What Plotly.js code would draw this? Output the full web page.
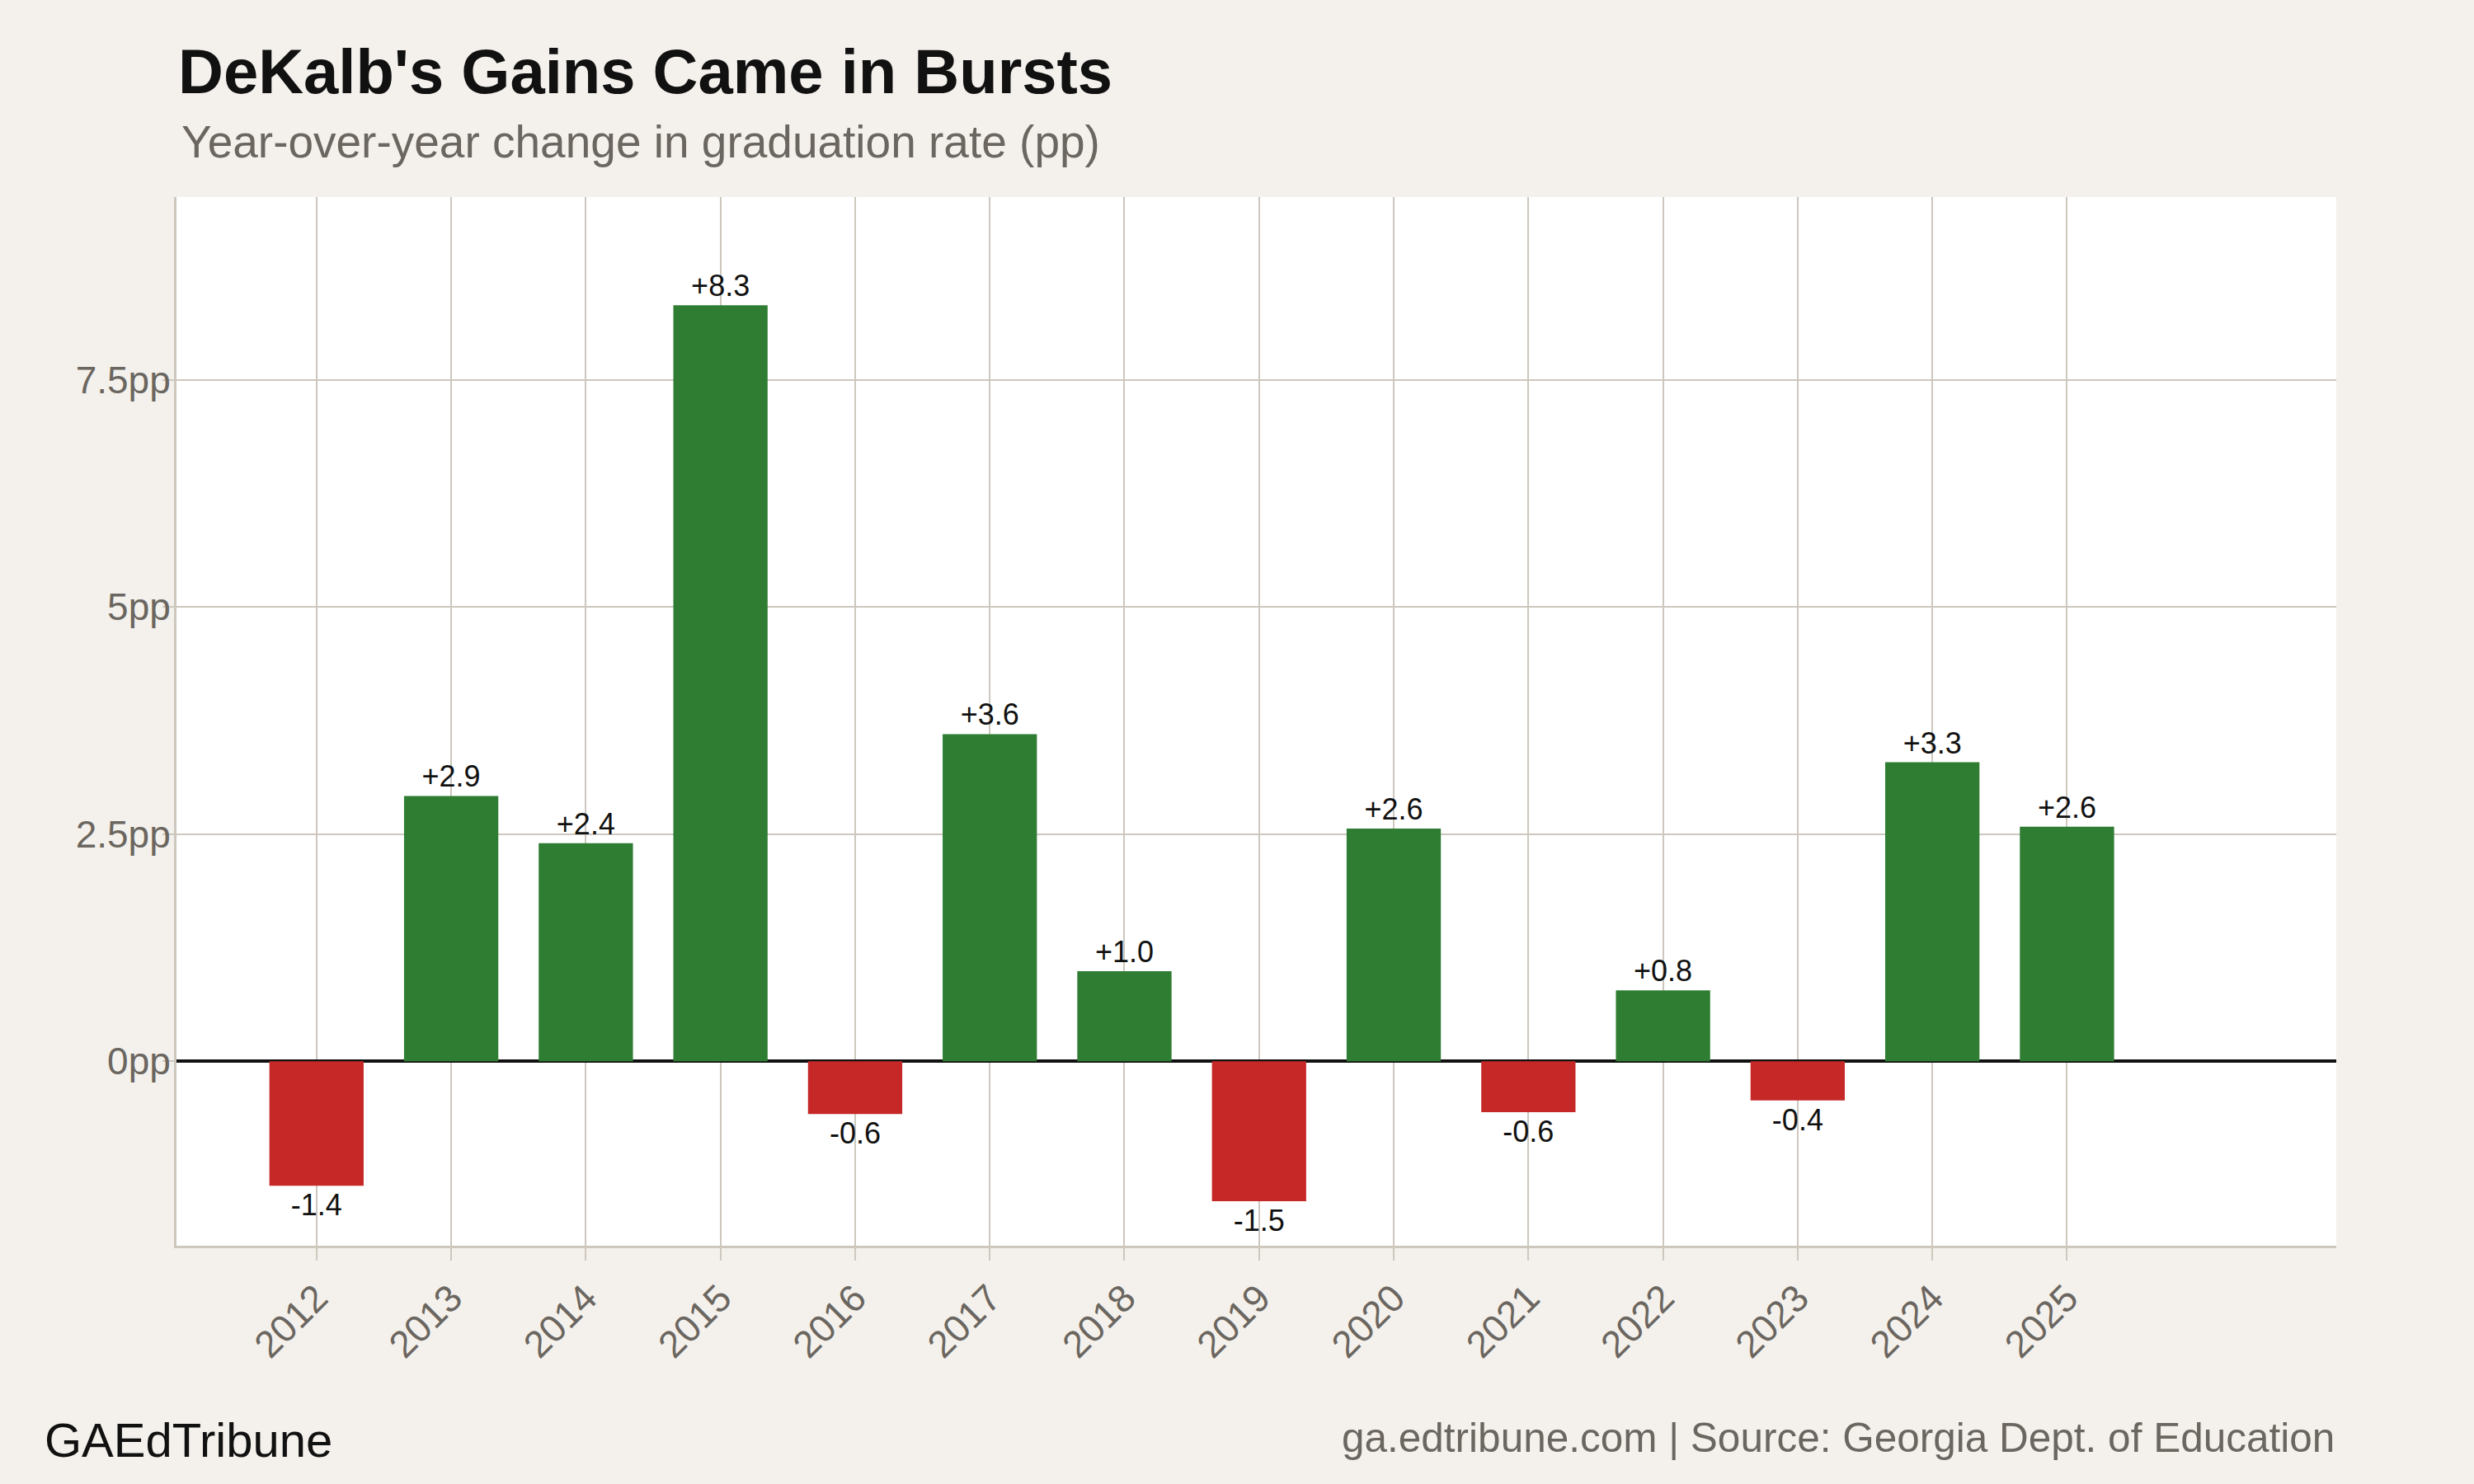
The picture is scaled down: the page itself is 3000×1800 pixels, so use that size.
<!DOCTYPE html>
<html>
<head>
<meta charset="utf-8">
<script src="https://cdn.plot.ly/plotly-3.0.1.min.js"></script>
<style>
  html, body { margin: 0; padding: 0; background: #f4f1ec; }
  #chart { width: 3000px; height: 1800px; }
</style>
</head>
<body>
<div id="chart"></div>
<script>
// ---- data ----
const years = [2012, 2013, 2014, 2015, 2016, 2017, 2018, 2019, 2020, 2021, 2022, 2023, 2024, 2025];
const changes = [-1.37, 2.92, 2.40, 8.32, -0.58, 3.60, 0.99, -1.54, 2.56, -0.56, 0.78, -0.43, 3.29, 2.58];
const yTickVals = [0, 2.5, 5, 7.5];
const yTickText = ['0pp', '2.5pp', '5pp', '7.5pp'];
const xTickText = years.map(String);

const titleText = "DeKalb's Gains Came in Bursts";
const subtitleText = "Year-over-year change in graduation rate (pp)";
const brandText = "GAEdTribune";
const sourceText = "ga.edtribune.com | Source: Georgia Dept. of Education";

// ---- styles ----
const GREEN = '#2e7d32';
const RED = '#c62828';
const GRID = '#cdc7bd';
const MUTED = '#6b6660';
const FONT = '"Liberation Sans", Arial, Helvetica, sans-serif';

const barColors = changes.map(v => v >= 0 ? GREEN : RED);
const barLabels = changes.map(v => (v >= 0 ? '+' : '') + v.toFixed(1));

const trace = {
  type: 'bar',
  x: years,
  y: changes,
  text: barLabels,
  textinfo: 'text',
  width: 0.7,
  marker: { color: barColors, line: { width: 0 } },
  textposition: 'outside',
  constraintext: 'none',
  cliponaxis: false,
  textfont: { family: FONT, size: 36, color: '#111111' },
  hoverinfo: 'x+y'
};

const layout = {
  width: 3000,
  height: 1800,
  paper_bgcolor: '#f4f1ec',
  plot_bgcolor: '#ffffff',
  margin: { l: 214, r: 167, t: 239, b: 289, pad: 0 },
  showlegend: false,
  font: { family: FONT, color: MUTED },
  title: {
    text: '<b>' + titleText + '</b>',
    font: { family: FONT, size: 76, color: '#111111' },
    x: 216 / 3000, xanchor: 'left', xref: 'container',
    y: 1 - 86 / 1800, yanchor: 'middle', yref: 'container'
  },
  xaxis: {
    type: 'linear',
    range: [2010.96, 2027.0],
    tickmode: 'array',
    tickvals: years,
    ticktext: xTickText,
    tickangle: -45,
    ticks: 'outside',
    ticklen: 15,
    tickwidth: 2,
    tickcolor: GRID,
    tickfont: { family: FONT, size: 46, color: MUTED },
    showgrid: true,
    gridcolor: GRID,
    gridwidth: 2,
    showline: true,
    linecolor: GRID,
    linewidth: 3,
    zeroline: false,
    fixedrange: true
  },
  yaxis: {
    range: [-2.03, 9.51],
    tickmode: 'array',
    tickvals: yTickVals,
    ticktext: yTickText,
    ticks: 'outside',
    ticklen: 14,
    tickwidth: 2,
    tickcolor: GRID,
    tickfont: { family: FONT, size: 46, color: MUTED },
    ticklabelstandoff: -19,
    showgrid: true,
    gridcolor: GRID,
    gridwidth: 2,
    showline: true,
    linecolor: GRID,
    linewidth: 3,
    zeroline: true,
    zerolinecolor: '#111111',
    zerolinewidth: 4,
    fixedrange: true
  },
  annotations: [
    {
      text: subtitleText,
      xref: 'paper', yref: 'paper',
      x: (218 - 214) / 2619, y: (1511 - 172) / 1272,
      xanchor: 'left', yanchor: 'middle',
      showarrow: false,
      font: { family: FONT, size: 55, color: MUTED }
    },
    {
      text: brandText,
      xref: 'paper', yref: 'paper',
      x: (52 - 214) / 2619, y: (1511 - 1746) / 1272,
      xanchor: 'left', yanchor: 'middle',
      showarrow: false,
      font: { family: FONT, size: 58, color: '#111111' }
    },
    {
      text: sourceText,
      xref: 'paper', yref: 'paper',
      x: 1, y: (1511 - 1743) / 1272,
      xanchor: 'right', yanchor: 'middle',
      showarrow: false,
      font: { family: FONT, size: 49.5, color: MUTED }
    }
  ]
};

Plotly.newPlot('chart', [trace], layout, { displayModeBar: false, staticPlot: true });
</script>
</body>
</html>
